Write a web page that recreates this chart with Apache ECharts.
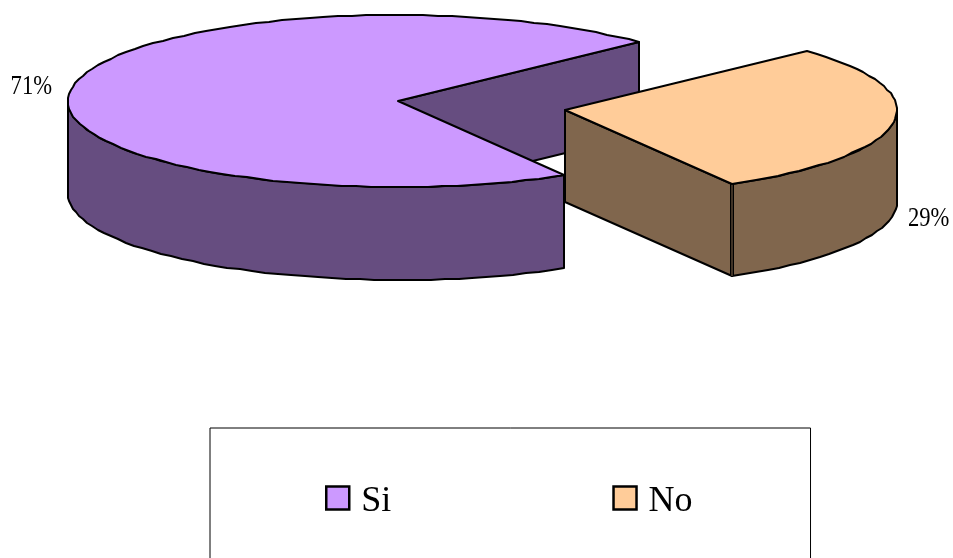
<!DOCTYPE html>
<html>
<head>
<meta charset="utf-8">
<title>Si / No</title>
<style>
  html, body { margin: 0; padding: 0; background: #fff; }
  #chart { width: 953px; height: 558px; }
</style>
<script src="https://cdn.jsdelivr.net/npm/echarts@6/dist/echarts.min.js"></script>
</head>
<body>
<div id="chart"></div>
<script>
var categories = ['Si', 'No'];
var shares = [71.4, 28.6];
var topColors = ['#CC99FF', '#FFCC99'];
var wallColors = ['#664D80', '#80664D'];

// ellipse layout of each slice, the second one is pulled out of the pie
var centers = [[398, 101], [565, 110]];
var radiusX = [330, 332];
var radiusY = 86;
var depths = [93, 92];
var firstAngle = 59.8;
var labelPos = [[52, 87], [908, 219]];

var total = shares.reduce(function (a, b) { return a + b; }, 0);

function sliceAngles(index) {
  var start = firstAngle;
  for (var i = 0; i < index; i++) {
    start += shares[i] / total * 360;
  }
  return [start, start + shares[index] / total * 360];
}

function rim(index, deg, drop) {
  var t = deg * Math.PI / 180;
  return [
    Math.round(centers[index][0] + radiusX[index] * Math.cos(t)),
    Math.round(centers[index][1] + radiusY * Math.sin(t)) + (drop || 0)
  ];
}

// rounded vertices every few degrees, gives the rough edge of the original
function arc(index, from, to, drop) {
  var pts = [];
  var n = Math.ceil(Math.abs(to - from) / 2.5);
  for (var i = 0; i <= n; i++) {
    pts.push(rim(index, from + (to - from) * i / n, drop));
  }
  return pts;
}

function poly(points, fill) {
  return {
    type: 'polygon',
    shape: { points: points },
    style: { fill: fill, stroke: '#000', lineWidth: 2, lineJoin: 'round' }
  };
}

function seam(from, to, color, width) {
  return {
    type: 'line',
    shape: { x1: from[0], y1: from[1], x2: to[0], y2: to[1] },
    style: { stroke: color, lineWidth: width }
  };
}

function renderSlice(params, api) {
  var i = params.seriesIndex;
  var a = sliceAngles(i);
  var c = centers[i];
  var depth = depths[i];
  var wall = wallColors[i];
  var children = [];

  // flat cut face at the end of the slice: inside the opening for Si, in front for No
  var edgeTop = rim(i, a[1]);
  var edgeLow = rim(i, a[1], depth);
  children.push(poly([c, edgeTop, edgeLow, [c[0], c[1] + depth]], wall));

  // outer wall, front half of the ellipse only
  var wallFrom = i === 0 ? a[0] : 360;
  var wallTo = i === 0 ? 180 : a[1];
  children.push(poly(arc(i, wallFrom, wallTo, 0).concat(arc(i, wallTo, wallFrom, depth)), wall));

  // the original shows a double line where cut face and outer wall meet
  if (i === 1) {
    children.push(seam(edgeTop, edgeLow, '#000', 4));
    children.push(seam(edgeTop, edgeLow, wall, 1));
  }

  // top face
  children.push(poly([c].concat(arc(i, a[0], a[1], 0)), topColors[i]));

  children.push({
    type: 'text',
    x: labelPos[i][0],
    y: labelPos[i][1],
    scaleY: 1.18,
    style: {
      text: Math.round(api.value(0) / total * 100) + '%',
      x: 0,
      y: 0,
      fill: '#000',
      font: '22.6px "Liberation Serif"',
      align: i === 0 ? 'right' : 'left',
      verticalAlign: 'middle'
    }
  });

  return { type: 'group', children: children };
}

var chart = echarts.init(document.getElementById('chart'));

chart.setOption({
  animation: false,
  backgroundColor: '#fff',
  legend: {
    left: 210,
    top: 428,
    orient: 'horizontal',
    data: categories,
    icon: 'rect',
    selectedMode: false,
    itemWidth: 23,
    itemHeight: 23,
    itemGap: 221,
    padding: [56, 118, 60, 115],
    borderColor: '#000',
    borderWidth: 1,
    itemStyle: { borderColor: '#000', borderWidth: 2.5 },
    formatter: '{a|{name}}',
    textStyle: {
      color: '#000',
      fontFamily: 'Liberation Serif',
      fontSize: 36,
      rich: {
        a: { color: '#000', fontFamily: 'Liberation Serif', fontSize: 36, padding: [8, 0, 0, 7] }
      }
    }
  },
  series: categories.map(function (name, i) {
    return {
      type: 'custom',
      name: name,
      coordinateSystem: 'none',
      itemStyle: { color: topColors[i] },
      renderItem: renderSlice,
      data: [[shares[i]]]
    };
  })
});
</script>
</body>
</html>
